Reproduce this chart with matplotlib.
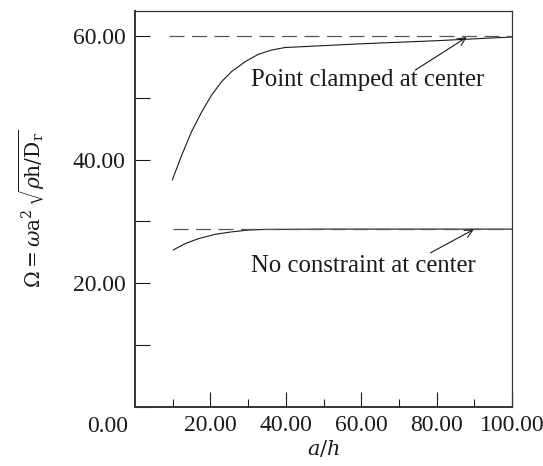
import numpy as np
import matplotlib
matplotlib.use('Agg')
import matplotlib.pyplot as plt

# Data
clamped_x = [9.9, 12.4, 15.0, 17.7, 20.3, 23.0, 25.6, 29.2, 32.7, 36.3, 39.8, 43.3, 60, 80, 100]
clamped_y = [36.7, 40.7, 44.5, 47.7, 50.4, 52.6, 54.2, 55.8, 57.0, 57.7, 58.1, 58.2, 58.7, 59.2, 59.8]
free_x = [10.2, 13.3, 16.8, 21.2, 25.6, 30.1, 34.5, 50, 100]
free_y = [25.4, 26.4, 27.2, 27.9, 28.3, 28.6, 28.7, 28.75, 28.75]
clamped_limit = 59.9
free_limit = 28.8
xticks_major = [20, 40, 60, 80, 100]
xticks_minor = [10, 30, 50, 70, 90]
yticks = [0, 10, 20, 30, 40, 50, 60]
ytick_labels = ['', '', '20.00', '', '40.00', '', '60.00']

plt.rcParams['font.family'] = ['Liberation Serif', 'DejaVu Serif']
plt.rcParams['mathtext.fontset'] = 'dejavuserif'

fig = plt.figure(figsize=(5.43, 4.66), dpi=100)
ax = fig.add_axes([135 / 543, 1 - 407 / 466, 377 / 543, 396 / 466])

ink = '#1a1a1a'
ax.plot(clamped_x, clamped_y, color=ink, lw=0.8)
ax.plot(free_x, free_y, color=ink, lw=0.8)
ax.plot([9, 100], [clamped_limit] * 2, color='#555555', lw=0.9, dashes=(12, 6))
ax.plot([10, 100], [free_limit] * 2, color='#555555', lw=0.9, dashes=(12, 6))

ax.annotate('', xy=(88.6, 60.0), xytext=(73.7, 54.2),
            arrowprops=dict(arrowstyle='->', color=ink, lw=0.8, mutation_scale=14))
ax.annotate('', xy=(90.5, 28.9), xytext=(77.7, 24.7),
            arrowprops=dict(arrowstyle='->', color=ink, lw=0.8, mutation_scale=14))
ax.text(30.8, 52.8, 'Point clamped at center', fontsize=17.8, color=ink, va='center')
ax.text(30.8, 22.8, 'No constraint at center', fontsize=17.8, color=ink, va='center')

ax.set_xlim(0, 100)
ax.set_ylim(0, 64)
ax.set_xticks(xticks_major)
ax.set_xticklabels([f'{v:.2f}' for v in xticks_major])
ax.set_xticks(xticks_minor, minor=True)
ax.set_yticks(yticks)
ax.set_yticklabels(ytick_labels)
ax.tick_params(axis='both', which='major', direction='in', length=11, width=0.8,
               labelsize=17, colors=ink, pad=6)
ax.tick_params(axis='x', which='minor', direction='in', length=6, width=0.8, colors=ink)
ax.tick_params(axis='y', which='major', pad=7)
for s in ax.spines.values():
    s.set_linewidth(0.9)
    s.set_color('#333333')
ax.spines['bottom'].set_linewidth(1.4)
ax.spines['left'].set_linewidth(1.4)

fig.text(128 / 543, 1 - 427 / 466, '0.00', fontsize=17, color=ink,
         ha='right', va='center')

ax.set_xlabel(r'$a/h$', fontsize=15, color=ink, labelpad=2)
ax.set_ylabel(r'$\Omega = \omega\mathrm{a}^2\,\sqrt{\rho\mathrm{h}/\mathrm{D_r}}$',
              fontsize=14.5, color=ink, labelpad=18)

fig.savefig('out.png', dpi=100)
